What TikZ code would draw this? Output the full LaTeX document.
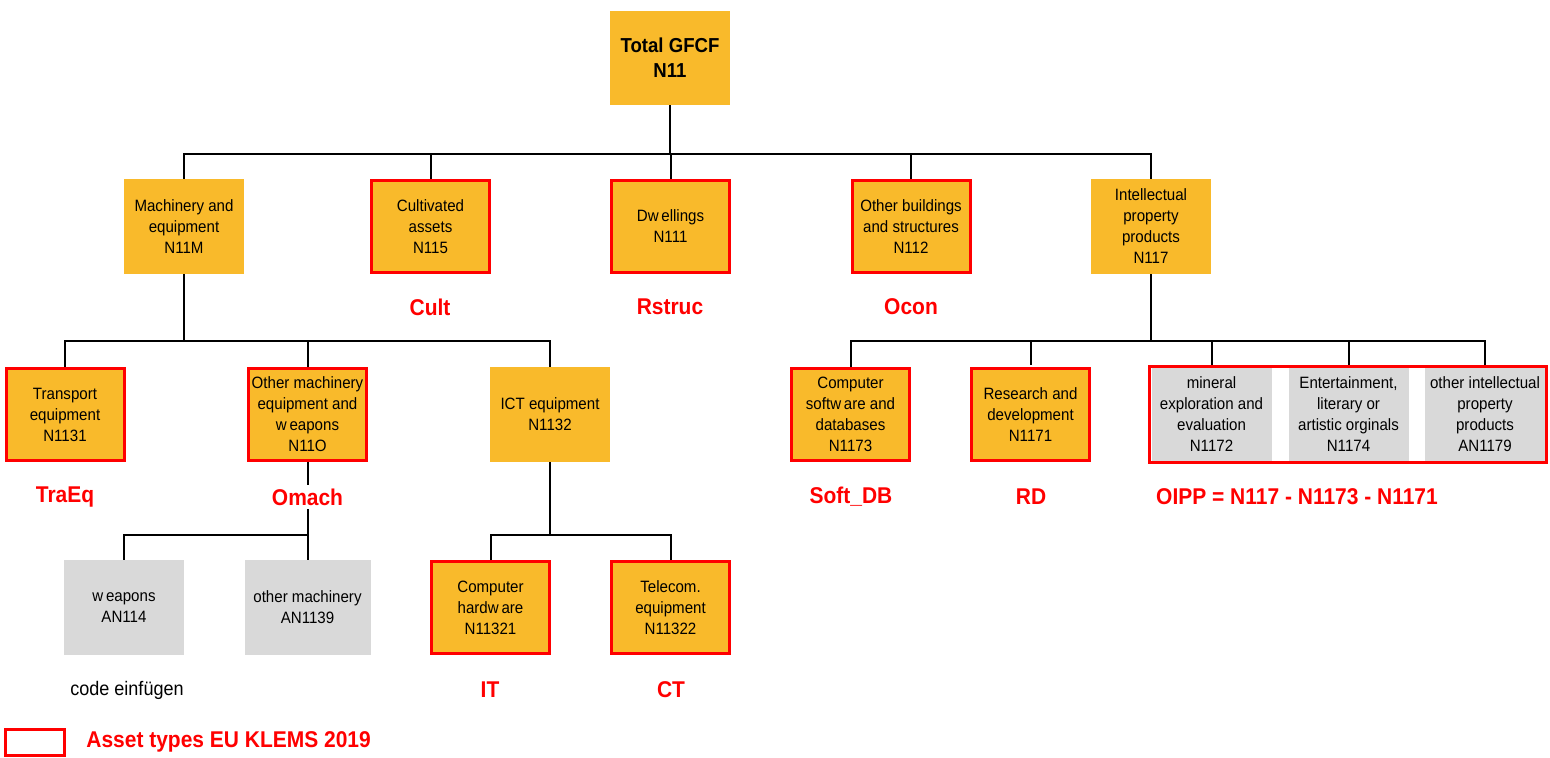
\documentclass[tikz,border=0pt]{standalone}
\usepackage{fontspec}
\setmainfont{Liberation Sans}[FakeStretch=0.92]
\usepackage{tikz}
\usetikzlibrary{fit}
\definecolor{gfcforange}{RGB}{249,186,43}
\definecolor{gfcfgray}{RGB}{217,217,217}
\definecolor{klemsred}{RGB}{255,0,0}

\begin{document}
\begin{tikzpicture}[x=0.5pt,y=-0.5pt,
    agg/.style={fill=gfcforange,minimum width=60pt,minimum height=47.5pt,
        inner sep=1pt,align=center,font=\fontsize{8.2}{10.5}\selectfont},
    asset/.style={agg,draw=klemsred,line width=1.5pt,
        minimum width=59pt,minimum height=46pt},
    sub/.style={agg,fill=gfcfgray},
    code/.style={text=klemsred,inner sep=2pt,
        font=\bfseries\fontsize{11.4}{13}\selectfont},
    link/.style={line width=1pt}]
    \useasboundingbox (0,0) rectangle (1550,757);

    % top
    \node[agg,minimum height=47pt,font=\bfseries\fontsize{10.1}{12.5}\selectfont]
        (total) at (670,58) {Total GFCF\\N11};

    % first level
    \node[agg]   (mach) at (184,226.5)   {Machinery and\\equipment\\N11M};
    \node[asset] (cult) at (430.5,226.5) {Cultivated\\assets\\N115};
    \node[asset] (dwel) at (670.5,226.5) {Dw\,ellings\\N111};
    \node[asset] (obld) at (911,226.5)   {Other buildings\\and structures\\N112};
    \node[agg]   (ipp)  at (1151,226.5)  {Intellectual\\property\\products\\N117};

    % second level
    \node[asset] (trans) at (65,414.5)    {Transport\\equipment\\N1131};
    \node[asset] (omach) at (307.5,414.5)
        {Other machinery\\equipment and\\w\,eapons\\N11O};
    \node[agg]   (ict)   at (550,414.5)   {ICT equipment\\N1132};
    \node[asset] (soft)  at (850.5,414.5)
        {Computer\\softw\,are and\\databases\\N1173};
    \node[asset] (rd)    at (1030.5,414.5) {Research and\\development\\N1171};
    \node[sub,minimum height=46.5pt] (min) at (1211.5,414.5)
        {mineral\\exploration and\\evaluation\\N1172};
    \node[sub,minimum height=46.5pt] (ent) at (1348.5,414.5)
        {Entertainment,\\literary or\\artistic orginals\\N1174};
    \node[sub,minimum height=46.5pt] (oth) at (1485,414.5)
        {other intellectual\\property\\products\\AN1179};
    \node[fit=(min)(ent)(oth),draw=klemsred,line width=1.5pt,inner sep=0.6pt]
        (oipp) {};

    % third level
    \node[sub]   (weap) at (124,607.5)   {w\,eapons\\AN114};
    \node[sub,minimum width=63pt] (othm) at (307.5,607.5)
        {other machinery\\AN1139};
    \node[asset] (hw)   at (490.5,607.5) {Computer\\hardw\,are\\N11321};
    \node[asset] (tel)  at (670.5,607.5) {Telecom.\\equipment\\N11322};

    % connectors
    \coordinate (busA) at (670,154);
    \coordinate (busB) at (184,341);
    \coordinate (busC) at (1151,341);
    \coordinate (busD) at (307.5,535);
    \coordinate (busE) at (550,535);

    \draw[link] (total) -- (busA);
    \draw[link] (mach.north) |- (busA) -| (ipp.north);
    \foreach \n in {cult,dwel,obld}
        \draw[link] (\n.north) -- (\n.north |- busA);

    \draw[link] (mach) -- (busB);
    \draw[link] (trans.north) |- (busB) -| (ict.north);
    \draw[link] (omach.north) -- (omach.north |- busB);

    \draw[link] (ipp) -- (busC);
    \draw[link] (soft.north) |- (busC) -| (oth.north |- oipp.north);
    \foreach \n in {rd,min,ent}
        \draw[link] (\n.north |- oipp.north) -- (\n.north |- busC);

    \draw[link] (omach) -- (othm);
    \draw[link] (weap.north) |- (busD);
    \draw[link] (ict) -- (busE);
    \draw[link] (hw.north) |- (busE) -| (tel.north);

    % EU KLEMS codes
    \node[code] (cultlab)  at (430,307)  {Cult};
    \node[code] (dwellab)  at (670,307)  {Rstruc};
    \node[code] (obldlab)  at (911,307)  {Ocon};
    \node[code] (translab) at (65,497)   {TraEq};
    \node[code,fill=white] (omachlab) at (307.5,497) {Omach};
    \node[code] (softlab)  at (851,497)  {Soft\_DB};
    \node[code] (rdlab)    at (1031,497) {RD};
    \node[code] (oipplab)  at (1297,497) {OIPP = N117 - N1173 - N1171};
    \node[code] (hwlab)    at (490,690)  {IT};
    \node[code] (tellab)   at (671,690)  {CT};
    \node[font=\fontsize{9.8}{12}\selectfont] (todo) at (127,690) {code einfügen};

    % legend
    \node[draw=klemsred,line width=1.5pt,minimum width=29.5pt,minimum height=13pt,
        inner sep=0pt] (key) at (35,742) {};
    \node[code,anchor=west,inner sep=0pt] (keytext) at (86,742)
        {Asset types EU KLEMS 2019};
\end{tikzpicture}
\end{document}
